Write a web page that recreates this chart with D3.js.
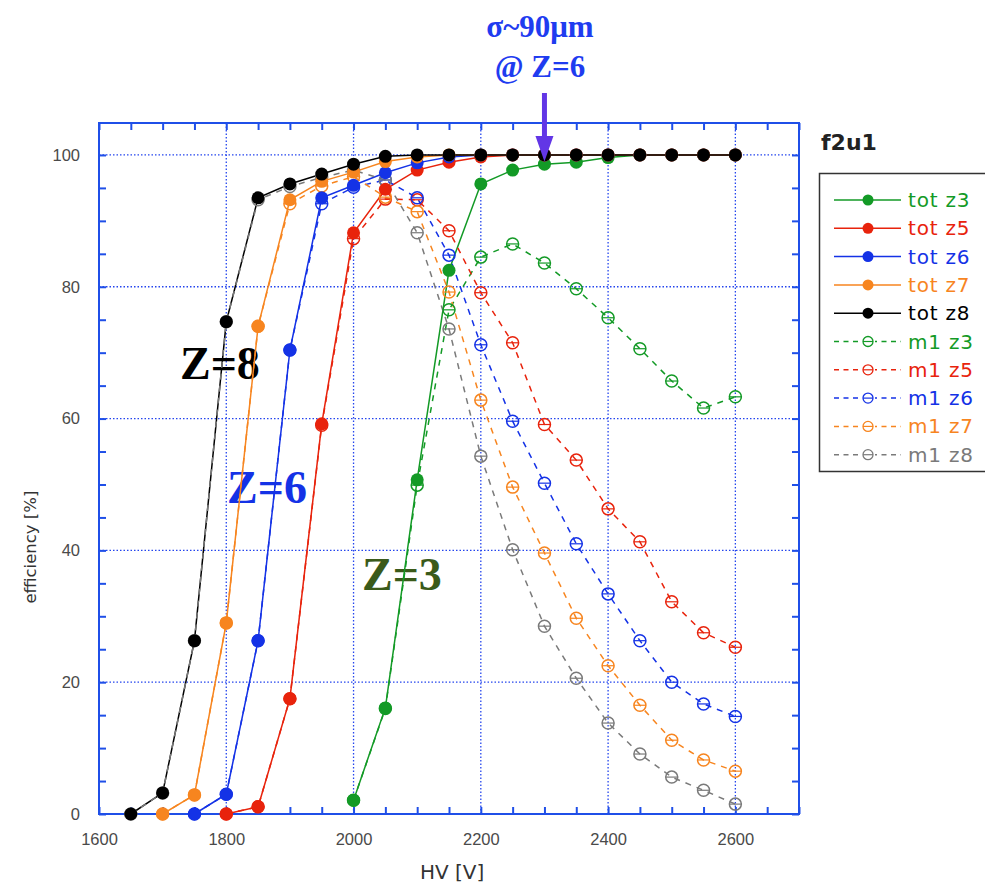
<!DOCTYPE html>
<html>
<head>
<meta charset="utf-8">
<script src="https://cdn.jsdelivr.net/npm/d3@7"></script>
<style>
  body { margin: 0; background: #fff; }
  svg { font-family: "DejaVu Sans", Verdana, sans-serif; }
</style>
</head>
<body>
<div id="chart"></div>
<script>
// HV steps, 50 V apart
const hv = [1650, 1700, 1750, 1800, 1850, 1900, 1950, 2000, 2050, 2100, 2150, 2200,
            2250, 2300, 2350, 2400, 2450, 2500, 2550, 2600];

// total efficiency
const totZ3 = [null, null, null, null, null, null, null, 2.1, 16.1, 50.7, 82.5, 95.6, 97.7, 98.6, 98.9, 99.6, 100, 100, 100, 100];
const totZ5 = [null, null, null, 0, 1.1, 17.5, 59.2, 88.2, 94.8, 97.7, 98.9, 99.7, 100, 100, 100, 100, 100, 100, 100, 100];
const totZ6 = [null, null, 0, 3, 26.3, 70.4, 93.5, 95.4, 97.3, 98.8, 99.7, 100, 100, 100, 100, 100, 100, 100, 100, 100];
const totZ7 = [null, 0, 2.9, 29, 74, 93.2, 96, 97.4, 99, 99.7, 100, 100, 100, 100, 100, 100, 100, 100, 100, 100];
const totZ8 = [0, 3.2, 26.3, 74.7, 93.5, 95.6, 97.1, 98.6, 99.8, 100, 100, 100, 100, 100, 100, 100, 100, 100, 100, 100];

// m1 efficiency
const m1Z3 = [null, null, null, null, null, null, null, 2.1, 16, 49.9, 76.5, 84.5, 86.5, 83.6, 79.7, 75.3, 70.6, 65.7, 61.6, 63.3];
const m1Z5 = [null, null, null, 0, 1.1, 17.5, 59, 87.3, 93.3, 93.2, 88.5, 79.1, 71.5, 59.1, 53.7, 46.3, 41.3, 32.2, 27.5, 25.3];
const m1Z6 = [null, null, 0, 3, 26.3, 70.4, 92.6, 95.1, 96.2, 93.5, 84.8, 71.2, 59.6, 50.2, 41, 33.4, 26.3, 20, 16.7, 14.8];
const m1Z7 = [null, 0, 2.9, 29, 74, 92.6, 95.3, 96.7, 93.6, 91.4, 79.2, 62.8, 49.6, 39.6, 29.7, 22.5, 16.5, 11.2, 8.2, 6.5];
const m1Z8 = [0, 3.2, 26.3, 74.7, 93.2, 95.2, 96.6, 97.7, 96.2, 88.2, 73.6, 54.3, 40.1, 28.5, 20.6, 13.8, 9.1, 5.6, 3.6, 1.5];

const seriesNames = ["tot z3", "tot z5", "tot z6", "tot z7", "tot z8",
                     "m1 z3", "m1 z5", "m1 z6", "m1 z7", "m1 z8"];
const seriesValues = [totZ3, totZ5, totZ6, totZ7, totZ8, m1Z3, m1Z5, m1Z6, m1Z7, m1Z8];

const xTicks = [1600, 1800, 2000, 2200, 2400, 2600];
const yTicks = [0, 20, 40, 60, 80, 100];

const colors = {
  z3: "#139a26", z5: "#e8230c", z6: "#1432e6", z7: "#f7851f", z8: "#000000", m8: "#7a7a7a"
};
function colorOf(name) {
  if (name == "m1 z8") return colors.m8;
  return colors[name.slice(-2)];
}

const W = 985, H = 883;
const margin = {top: 123, left: 99};
const width = 700, height = 691;

const svg = d3.select("#chart").append("svg")
  .attr("width", W).attr("height", H);

const xScale = d3.scaleLinear().domain([1600, 2700]).range([margin.left, margin.left + width]);
const yScale = d3.scaleLinear().domain([0, 104.85]).range([margin.top + height, margin.top]);

// grid
const gridColor = "#2445ee";
svg.append("g").selectAll("line")
  .data(xTicks.slice(1))
  .join("line")
  .attr("x1", d => xScale(d)).attr("x2", d => xScale(d))
  .attr("y1", margin.top).attr("y2", margin.top + height)
  .attr("stroke", gridColor).attr("stroke-width", 1.3).attr("stroke-dasharray", "1.5,2");
svg.append("g").selectAll("line")
  .data(yTicks.slice(1))
  .join("line")
  .attr("x1", margin.left).attr("x2", margin.left + width)
  .attr("y1", d => yScale(d)).attr("y2", d => yScale(d))
  .attr("stroke", gridColor).attr("stroke-width", 1.3).attr("stroke-dasharray", "1.5,2");

// axes (ticks inside, on all sides)
const frameColor = "#1f4fe8";
const xMinor = d3.range(1600, 2701, 50);
const yMinor = d3.range(0, 105, 5);

function styleAxis(g) {
  g.select(".domain").remove();
  g.selectAll(".tick line").attr("stroke", frameColor).attr("stroke-width", 2);
  g.selectAll(".tick text").attr("fill", "#4a4a4a").style("font-size", "16.5px");
}

svg.append("g")
  .attr("transform", `translate(0,${margin.top + height})`)
  .call(d3.axisBottom(xScale).tickValues(xMinor).tickSizeInner(-7).tickSizeOuter(0)
    .tickFormat(d => xTicks.includes(d) ? d : "").tickPadding(19))
  .call(styleAxis);
svg.append("g")
  .attr("transform", `translate(0,${margin.top})`)
  .call(d3.axisTop(xScale).tickValues(xMinor).tickSizeInner(-7).tickSizeOuter(0).tickFormat(""))
  .call(styleAxis);
svg.append("g")
  .attr("transform", `translate(${margin.left},0)`)
  .call(d3.axisLeft(yScale).tickValues(yMinor).tickSizeInner(-7).tickSizeOuter(0)
    .tickFormat(d => yTicks.includes(d) ? d : "").tickPadding(19))
  .call(styleAxis);
svg.append("g")
  .attr("transform", `translate(${margin.left + width},0)`)
  .call(d3.axisRight(yScale).tickValues(yMinor).tickSizeInner(-7).tickSizeOuter(0).tickFormat(""))
  .call(styleAxis);

svg.append("rect")
  .attr("x", margin.left).attr("y", margin.top)
  .attr("width", width).attr("height", height)
  .attr("fill", "none").attr("stroke", frameColor).attr("stroke-width", 2);

// axis titles
svg.append("text")
  .attr("x", xScale(2155)).attr("y", 879)
  .attr("text-anchor", "middle").attr("fill", "#333")
  .style("font-size", "20px")
  .text("HV [V]");
svg.append("text")
  .attr("transform", `translate(36,${yScale(40.5)}) rotate(-90)`)
  .attr("text-anchor", "middle").attr("fill", "#333")
  .style("font-size", "16.5px")
  .text("efficiency [%]");

// Z labels (under the curves)
const serif = "'Liberation Serif', 'Times New Roman', serif";
const zLabels = [
  {t: "Z=8", x: 1790, y: 66, c: "#000"},
  {t: "Z=6", x: 1864, y: 47.2, c: "#1432e6"},
  {t: "Z=3", x: 2076, y: 34, c: "#3a5a1a"}
];
svg.append("g").selectAll("text")
  .data(zLabels)
  .join("text")
  .attr("x", d => xScale(d.x)).attr("y", d => yScale(d.y))
  .attr("text-anchor", "middle")
  .attr("fill", d => d.c)
  .style("font-family", serif).style("font-weight", "bold").style("font-size", "46px")
  .text(d => d.t);

// series
const plot = svg.append("g");
const line = d3.line()
  .defined(d => d.v != null)
  .x(d => xScale(d.hv)).y(d => yScale(d.v));

seriesNames.forEach((name, i) => {
  const pts = hv.map((h, j) => ({hv: h, v: seriesValues[i][j]}));
  const col = colorOf(name);
  const isM1 = name.startsWith("m1");
  plot.append("path")
    .datum(pts)
    .attr("d", line)
    .attr("fill", "none")
    .attr("stroke", col)
    .attr("stroke-width", 1.5)
    .attr("stroke-dasharray", isM1 ? "6,6" : null);
});

// markers drawn after lines; open markers first, filled ones on top
function drawMarker(g, x, y, col, open) {
  if (open) {
    g.append("circle").attr("cx", x).attr("cy", y).attr("r", 6)
      .attr("fill", "none").attr("stroke", col).attr("stroke-width", 1.5);
    g.append("line").attr("x1", x - 6).attr("x2", x + 6).attr("y1", y).attr("y2", y)
      .attr("stroke", col).attr("stroke-width", 1.2);
  } else {
    g.append("circle").attr("cx", x).attr("cy", y).attr("r", 6.5).attr("fill", col);
  }
}
[5, 6, 7, 8, 9, 0, 1, 2, 3, 4].forEach(i => {
  const name = seriesNames[i];
  const col = colorOf(name);
  const open = name.startsWith("m1");
  hv.forEach((h, j) => {
    const v = seriesValues[i][j];
    if (v == null) return;
    drawMarker(plot, xScale(h), yScale(v), col, open);
  });
});

// annotation
svg.append("text")
  .attr("x", xScale(2293)).attr("y", 37)
  .attr("text-anchor", "middle").attr("fill", "#1f3cf0")
  .style("font-family", serif).style("font-weight", "bold").style("font-size", "31px")
  .text("σ~90μm");
svg.append("text")
  .attr("x", xScale(2293)).attr("y", 77)
  .attr("text-anchor", "middle").attr("fill", "#1f3cf0")
  .style("font-family", serif).style("font-weight", "bold").style("font-size", "31px")
  .text("@ Z=6");
const ax = xScale(2300);
svg.append("line")
  .attr("x1", ax).attr("x2", ax).attr("y1", 93).attr("y2", 140)
  .attr("stroke", "#6236e6").attr("stroke-width", 5);
svg.append("path")
  .attr("d", `M${ax - 9},${136} L${ax + 9},${136} L${ax},${yScale(99)} Z`)
  .attr("fill", "#6236e6");

// title + legend
svg.append("text")
  .attr("x", 821).attr("y", 150)
  .attr("fill", "#222").style("font-weight", "bold").style("font-size", "22px")
  .text("f2u1");

svg.append("rect")
  .attr("x", 819.5).attr("y", 173.5).attr("width", 200).attr("height", 298)
  .attr("fill", "#fff").attr("stroke", "#333").attr("stroke-width", 1.5);

const legend = svg.append("g");
seriesNames.forEach((name, i) => {
  const y = 200 + i * 28.3;
  const col = colorOf(name);
  const open = name.startsWith("m1");
  legend.append("line")
    .attr("x1", 834).attr("x2", 901).attr("y1", y).attr("y2", y)
    .attr("stroke", col).attr("stroke-width", 1.5)
    .attr("stroke-dasharray", open ? "5,4.5" : null);
  if (open) {
    legend.append("rect").attr("x", 861).attr("y", y - 7).attr("width", 14).attr("height", 14).attr("fill", "#fff");
    legend.append("circle").attr("cx", 868).attr("cy", y).attr("r", 5)
      .attr("fill", "#fff").attr("stroke", col).attr("stroke-width", 1.3);
    legend.append("line").attr("x1", 863).attr("x2", 873).attr("y1", y).attr("y2", y)
      .attr("stroke", col).attr("stroke-width", 1.2);
  } else {
    legend.append("circle").attr("cx", 868).attr("cy", y).attr("r", 5.5).attr("fill", col);
  }
  legend.append("text")
    .attr("x", 908).attr("y", y + 7)
    .attr("fill", col).style("font-size", "20px").style("letter-spacing", "0.8px")
    .text(name);
});
</script>
</body>
</html>
